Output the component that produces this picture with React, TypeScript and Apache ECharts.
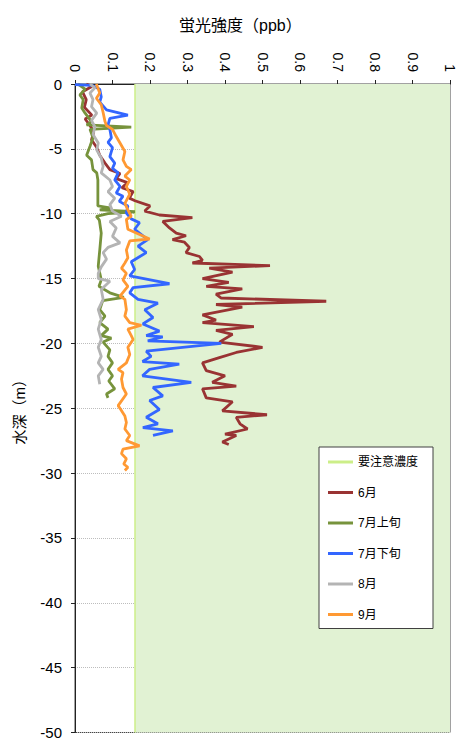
import React, { useEffect, useRef } from "react";
import * as echarts from "echarts";

// [intensity (ppb), depth (m)]
const LIMIT = 0.16;
const limitLine: number[][] = [[LIMIT, 0], [LIMIT, -50]];

const june: number[][] = [
  [0.03, 0], [0.045, -0.2], [0.02, -0.6], [0.03, -1.2], [0.025, -1.8], [0.045, -2.4], [0.027, -2.7],
  [0.04, -3.2], [0.05, -3.7], [0.044, -4.3], [0.058, -4.9], [0.066, -5.5], [0.08, -6.1], [0.093, -6.6],
  [0.12, -6.9], [0.11, -7.3], [0.14, -7.6], [0.125, -8.0], [0.155, -8.3], [0.145, -8.8], [0.16, -9.0],
  [0.2, -9.4], [0.186, -9.8], [0.225, -10.1], [0.313, -10.3], [0.234, -10.6], [0.252, -11.1], [0.27, -11.5],
  [0.296, -11.7], [0.26, -12.0], [0.292, -12.2], [0.305, -12.6], [0.296, -13.0], [0.332, -13.3], [0.34, -13.6],
  [0.313, -13.8], [0.52, -14.0], [0.358, -14.2], [0.42, -14.5], [0.34, -15.0], [0.41, -15.3], [0.35, -15.6],
  [0.446, -15.8], [0.376, -16.2], [0.39, -16.5], [0.67, -16.75], [0.376, -17.0], [0.446, -17.2], [0.34, -17.8],
  [0.376, -18.2], [0.34, -18.4], [0.477, -18.7], [0.376, -19.0], [0.42, -19.3], [0.385, -19.9], [0.5, -20.3],
  [0.43, -20.7], [0.385, -21.1], [0.34, -21.5], [0.35, -22.1], [0.4, -22.5], [0.366, -23.0], [0.43, -23.3],
  [0.34, -23.5], [0.35, -24.2], [0.42, -24.5], [0.393, -25.2], [0.512, -25.5], [0.43, -25.7], [0.44, -26.2],
  [0.46, -26.6], [0.4, -27.0], [0.43, -27.1], [0.393, -27.6], [0.41, -27.8],
];

const julyEarly: number[][] = [
  [0.008, 0], [0.027, -0.4], [0.013, -0.85], [0.022, -1.2], [0.018, -1.85], [0.027, -2.25], [0.044, -2.9],
  [0.031, -3.15], [0.15, -3.33], [0.04, -3.5], [0.048, -4.15], [0.04, -4.8], [0.031, -5.5], [0.044, -5.85],
  [0.048, -6.6], [0.058, -6.85], [0.061, -7.4], [0.061, -9.4], [0.093, -9.56], [0.066, -9.7], [0.16, -9.85],
  [0.088, -10.0], [0.057, -10.2], [0.065, -10.5], [0.07, -11.5], [0.066, -12.8], [0.062, -14.05], [0.07, -15.1],
  [0.064, -15.6], [0.093, -16.1], [0.13, -16.45], [0.074, -16.7], [0.066, -17.4], [0.08, -17.9], [0.066, -18.4],
  [0.088, -18.9], [0.07, -19.4], [0.097, -19.6], [0.075, -19.9], [0.093, -20.5], [0.088, -21.0], [0.1, -21.5],
  [0.088, -22.0], [0.1, -22.5], [0.09, -22.9], [0.106, -23.5], [0.084, -23.9], [0.088, -24.2],
];

const julyLate: number[][] = [
  [0.0, -0.05], [0.045, -0.1], [0.066, -0.4], [0.07, -1.0], [0.066, -1.4], [0.084, -2.0], [0.141, -2.4],
  [0.093, -2.65], [0.088, -3.15], [0.093, -3.5], [0.097, -4.15], [0.088, -4.5], [0.1, -4.9], [0.093, -5.6],
  [0.106, -6.1], [0.1, -6.5], [0.115, -6.85], [0.106, -7.4], [0.12, -7.9], [0.11, -8.4], [0.128, -8.65],
  [0.118, -9.05], [0.141, -9.4], [0.137, -9.95], [0.15, -10.4], [0.172, -10.7], [0.159, -11.2], [0.194, -12.0],
  [0.168, -12.5], [0.19, -13.0], [0.15, -13.7], [0.159, -14.3], [0.146, -14.8], [0.252, -15.4], [0.155, -15.7],
  [0.146, -16.1], [0.168, -16.6], [0.221, -16.9], [0.186, -17.4], [0.208, -18.0], [0.181, -18.5], [0.225, -19.05],
  [0.19, -19.4], [0.234, -19.5], [0.194, -19.8], [0.39, -20.0], [0.19, -20.6], [0.203, -21.0], [0.18, -21.4],
  [0.278, -21.6], [0.199, -22.0], [0.18, -22.5], [0.31, -23.0], [0.208, -23.4], [0.234, -24.05], [0.199, -24.4],
  [0.225, -25.1], [0.19, -25.7], [0.221, -26.2], [0.181, -26.5], [0.261, -26.75], [0.208, -27.1],
];

const august: number[][] = [
  [0.04, 0], [0.053, -0.3], [0.04, -0.7], [0.048, -1.2], [0.044, -1.75], [0.058, -2.25], [0.044, -2.8],
  [0.053, -3.3], [0.048, -3.9], [0.062, -4.55], [0.058, -5.1], [0.07, -5.7], [0.075, -6.35], [0.07, -6.85],
  [0.093, -7.4], [0.1, -7.9], [0.088, -8.3], [0.106, -8.8], [0.093, -9.3], [0.1, -9.8], [0.124, -10.2],
  [0.093, -10.6], [0.11, -11.1], [0.1, -11.75], [0.12, -12.25], [0.088, -12.6], [0.075, -13.0], [0.084, -13.5],
  [0.07, -14.1], [0.062, -14.6], [0.062, -15.0], [0.093, -15.2], [0.07, -15.85], [0.075, -16.6], [0.062, -17.4],
  [0.07, -18.15], [0.062, -18.9], [0.07, -19.7], [0.062, -20.3], [0.07, -21.0], [0.062, -21.5], [0.075, -22.0],
  [0.062, -22.5], [0.066, -23.15],
];

const september: number[][] = [
  [0.057, 0], [0.066, -0.7], [0.057, -1.1], [0.07, -1.6], [0.075, -2.2], [0.08, -2.9], [0.084, -3.2],
  [0.1, -3.5], [0.11, -4.05], [0.12, -4.55], [0.133, -5.2], [0.128, -5.85], [0.137, -6.35], [0.15, -6.6],
  [0.133, -7.1], [0.146, -7.4], [0.137, -7.9], [0.146, -8.5], [0.133, -9.2], [0.141, -9.7], [0.15, -10.2],
  [0.137, -10.45], [0.141, -11.2], [0.199, -11.95], [0.146, -12.1], [0.137, -12.8], [0.141, -13.4], [0.133, -13.8],
  [0.124, -14.2], [0.137, -14.6], [0.128, -15.1], [0.141, -15.6], [0.12, -16.35], [0.133, -16.6], [0.137, -17.4],
  [0.133, -17.9], [0.146, -18.4], [0.177, -18.6], [0.141, -18.9], [0.15, -19.4], [0.155, -19.7], [0.141, -20.3],
  [0.146, -20.85], [0.137, -21.5], [0.115, -22.0], [0.128, -22.25], [0.124, -22.75], [0.128, -23.4], [0.137, -23.9],
  [0.115, -24.8], [0.122, -25.1], [0.133, -25.6], [0.137, -26.1], [0.133, -26.6], [0.146, -27.1], [0.137, -27.5],
  [0.172, -27.9], [0.128, -28.15], [0.124, -28.5], [0.137, -28.9], [0.13, -29.3], [0.141, -29.55], [0.133, -29.8],
];

const seriesNames = ["要注意濃度", "6月", "7月上旬", "7月下旬", "8月", "9月"];
const seriesData = [limitLine, june, julyEarly, julyLate, august, september];
const seriesColors = ["#ccee88", "#993333", "#77933c", "#3366ff", "#b4b4b4", "#ff9933"];

const FONT = 'Arial, "Liberation Sans", "Noto Sans CJK JP", sans-serif';

export default function App() {
  const ref = useRef<HTMLDivElement>(null);
  useEffect(() => {
    document.body.style.margin = "0";
    if (!ref.current) return;
    const chart = echarts.init(ref.current, null, { renderer: "svg" });
    const series: any[] = seriesNames.map((name, i) => ({
      name,
      type: "line",
      data: seriesData[i],
      symbol: "none",
      showSymbol: false,
      color: seriesColors[i],
      lineStyle: { color: seriesColors[i], width: i === 0 ? 1.5 : 2.8 },
      z: 2 + i,
    }));
    series[0].markArea = {
      silent: true,
      itemStyle: { color: "#e1f2d3" },
      data: [[{ coord: [LIMIT, 0] }, { coord: [1, -50] }]],
    };
    chart.setOption({
      animation: false,
      textStyle: { fontFamily: FONT },
      title: {
        text: "蛍光強度（ppb）",
        left: 174,
        top: 12,
        textStyle: { fontSize: 16, fontWeight: "normal", color: "#000", fontFamily: FONT },
      },
      grid: { left: 75, top: 84, width: 377, height: 650, show: true, borderColor: "#444", borderWidth: 1 },
      legend: {
        data: seriesNames,
        orient: "vertical",
        left: 319,
        top: 447,
        icon: "rect",
        itemWidth: 25,
        itemHeight: 3,
        itemGap: 18.5,
        padding: [9, 15, 8, 9],
        backgroundColor: "#fff",
        borderColor: "#404040",
        borderWidth: 1,
        borderRadius: 0,
        textStyle: { fontSize: 12, color: "#000", fontFamily: FONT },
      },
      xAxis: {
        type: "value",
        position: "top",
        min: 0,
        max: 1,
        interval: 0.1,
        axisLine: { show: true, lineStyle: { color: "#222", width: 1 } },
        axisTick: { show: true, length: 4, lineStyle: { color: "#222" } },
        axisLabel: { rotate: -90, fontSize: 14, color: "#000", margin: 12 },
        splitLine: { show: false },
      },
      yAxis: {
        type: "value",
        min: -50,
        max: 0,
        interval: 5,
        name: "水深（m）",
        nameLocation: "middle",
        nameGap: 48,
        nameRotate: 90,
        nameTextStyle: { fontSize: 15, color: "#000" },
        axisLine: { show: true, lineStyle: { color: "#222", width: 1 } },
        axisTick: { show: true, length: 4, lineStyle: { color: "#222" } },
        axisLabel: { fontSize: 15, color: "#000", margin: 13 },
        splitLine: { show: true, lineStyle: { color: "#bdbdbd", type: "dotted" } },
      },
      series,
    });
    return () => chart.dispose();
  }, []);
  return <div ref={ref} style={{ width: 457, height: 740 }} />;
}
